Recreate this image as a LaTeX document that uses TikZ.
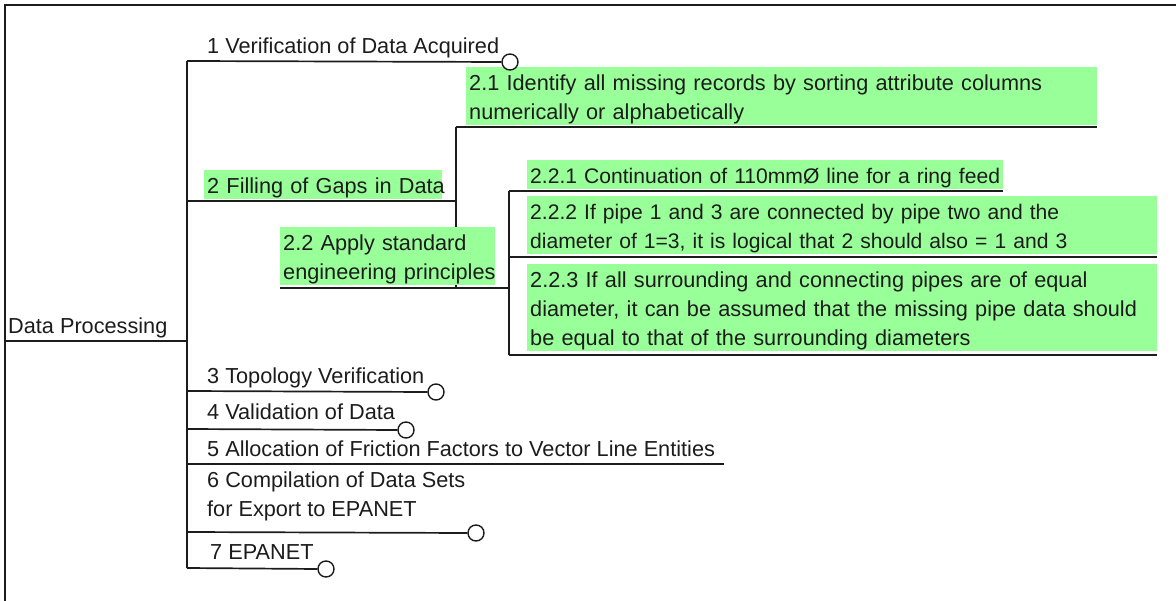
\documentclass[tikz,border=0pt]{standalone}
\usepackage{fontspec}
\setmainfont{Liberation Sans}
\definecolor{leaf}{HTML}{99FF99}
\definecolor{ink}{HTML}{1C1C1C}
% strut giving every text line the same height and depth
\newcommand\itemstrut{\vrule width 0pt height 23pt depth 6pt}

\begin{document}
\begin{tikzpicture}[x=1pt,y=-1pt,
  every node/.style={font=\fontsize{21.7}{29}\selectfont, text=ink},
  txt/.style={inner sep=0pt, anchor=north west, align=left,
    execute at begin node=\itemstrut, execute at end node=\itemstrut},
  hl/.style={txt, fill=leaf, inner xsep=3pt},
  tight/.style={font=\fontsize{21.1}{29}\selectfont},
  ln/.style={draw=ink, line width=1.7pt},
  frame/.style={draw=ink, line width=2pt},
  tip/.style={circle, draw=ink, fill=white, line width=1.4pt,
    minimum size=16pt, inner sep=0pt},
]
\useasboundingbox (0,0) rectangle (1176,601);

% outer frame (top and left edges)
\draw[frame] (5,601) -- (5,5) -- (1176,5);

% joints on the trunk and on the sub-trunks
\coordinate (rootL) at (5,341);
\coordinate (hub) at (187,341);
\coordinate (j1) at (187,61);
\coordinate (j2) at (187,201);
\coordinate (j3) at (187,391);
\coordinate (j4) at (187,429);
\coordinate (j5) at (187,464);
\coordinate (j6) at (187,532);
\coordinate (j7) at (187,568);
\coordinate (k2) at (456,201);
\coordinate (k21) at (456,127);
\coordinate (e21) at (1097,127);
\coordinate (s22) at (280,288);
\coordinate (k22) at (456,288);
\coordinate (m22) at (509,288);
\coordinate (m221) at (509,191);
\coordinate (m222) at (509,257);
\coordinate (m223) at (509,355);
\coordinate (e221) at (1003,191);
\coordinate (e222) at (1157,257);
\coordinate (e223) at (1157,355);
\coordinate (e5) at (724,464);

% connectors lying under the labels
\draw[ln] (rootL) -- (hub);
\draw[ln] (j1) -- (j7);
\draw[ln] (j2) -- (k2);
\draw[ln] (k21) -- (k22);
\draw[ln] (k21) -- (e21);
\draw[ln] (s22) -- (m22);
\draw[ln] (m221) -- (m223);
\draw[ln] (m221) -- (e221);
\draw[ln] (m222) -- (e222);
\draw[ln] (m223) -- (e223);
\draw[ln] (j5) -- (e5);

% labels
\node[txt] (root) at (8,310) {Data Processing};
\node[txt] (n1) at (207,30) {1 Verification of Data Acquired};
\node[hl, text width=232pt] (n2) at (204,170) {\mbox{2 Filling of Gaps in Data}};
\node[hl, text width=625pt] (n21) at (466,67)
  {\mbox{2.1 Identify all missing records by sorting attribute columns}\\
   \mbox{numerically or alphabetically}};
\node[hl, text width=209pt] (n22) at (280,227)
  {\mbox{2.2 Apply standard}\\\mbox{engineering principles}};
\node[hl, tight, text width=470pt] (n221) at (527,160)
  {\mbox{2.2.1 Continuation of 110mmØ line for a ring feed}};
\node[hl, tight, text width=624pt] (n222) at (527,196)
  {\mbox{2.2.2 If pipe 1 and 3 are connected by pipe two and the}\\
   \mbox{diameter of 1=3, it is logical that 2 should also = 1 and 3}};
\node[hl, text width=624pt] (n223) at (527,264)
  {\mbox{2.2.3 If all surrounding and connecting pipes are of equal}\\
   \mbox{diameter, it can be assumed that the missing pipe data should}\\
   \mbox{be equal to that of the surrounding diameters}};
\node[txt] (n3) at (207,360) {3 Topology Verification};
\node[txt] (n4) at (207,396) {4 Validation of Data};
\node[txt] (n5) at (207,433) {5 Allocation of Friction Factors to Vector Line Entities};
\node[txt] (n6) at (207,472) {6 Compilation of Data Sets\\for Export to EPANET};
\node[txt] (n7) at (210,536) {7 EPANET};

% open end markers
\node[tip] (c1) at (510,62) {};
\node[tip] (c3) at (436,392) {};
\node[tip] (c4) at (406,430) {};
\node[tip] (c6) at (476,533) {};
\node[tip] (c7) at (326,569) {};
\draw[ln] (j1) -- (c1.west);
\draw[ln] (j3) -- (c3.west);
\draw[ln] (j4) -- (c4.west);
\draw[ln] (j6) -- (c6.west);
\draw[ln] (j7) -- (c7.west);
\end{tikzpicture}
\end{document}
